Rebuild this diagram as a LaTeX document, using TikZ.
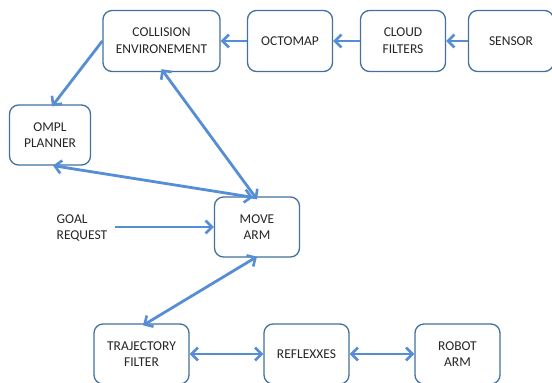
\documentclass[tikz,border=0pt]{standalone}
\usepackage{fontspec}
\setmainfont{Carlito}
\usetikzlibrary{arrows.meta}
\definecolor{boxline}{HTML}{41719C}
\definecolor{arrowc}{HTML}{558ED5}
\definecolor{txt}{HTML}{262626}
\begin{document}
\begin{tikzpicture}[x=1pt,y=-1pt,
  box/.style={draw=boxline, line width=1.3pt, rounded corners=9pt, fill=white,
    minimum width=85pt, minimum height=61pt, align=center, inner sep=0pt,
    font=\fontsize{13.5}{16.7}\selectfont, text=txt},
  lbl/.style={align=left, inner sep=0pt, font=\fontsize{13.5}{16.7}\selectfont, text=txt},
  conn/.style={draw=arrowc, line width=2.8pt},
  tip/.tip={Straight Barb[length=6.5pt,width=13pt,line width=2.6pt]},
  a1/.style={conn,-tip},
  a2/.style={conn,tip-tip}]
\useasboundingbox (0,0) rectangle (552,383);
\clip (0,0) rectangle (552,383);
\node[box, minimum width=117pt] (coll) at (161.5,41) {COLLISION\\ENVIRONEMENT};
\node[box] (octo) at (290,41) {OCTOMAP};
\node[box] (cloud) at (403,41) {CLOUD\\FILTERS};
\node[box] (sensor) at (511,41) {SENSOR};
\node[box, minimum width=81pt, minimum height=60pt] (ompl) at (50,135) {OMPL\\PLANNER};
\node[box, minimum height=60pt] (move) at (257,227) {MOVE\\ARM};
\node[lbl] (goal) at (82,228) {GOAL\\REQUEST};
\coordinate (gstart) at (115,227);
\node[box, minimum width=95pt, minimum height=60pt] (traj) at (141.5,354) {TRAJECTORY\\FILTER};
\node[box, minimum height=60pt] (refl) at (306.5,354) {REFLEXXES};
\node[box, minimum height=60pt] (robot) at (457.5,354) {ROBOT\\ARM};

\draw[a1] (sensor.west) -- (cloud.east);
\draw[a1] (cloud.west) -- (octo.east);
\draw[a1] (octo.west) -- (coll.east);
\draw[a1] (coll.west) -- ([xshift=2pt,yshift=-2pt]ompl.north);
\draw[a2] ([yshift=3pt]coll.south) -- ([yshift=-3pt]move.north);
\draw[a2] ([xshift=3pt,yshift=0pt]ompl.south) -- ([xshift=-4pt,yshift=-1pt]move.north);
\draw[a1] (gstart) -- (move.west);
\draw[a2] ([yshift=1pt]move.south) -- ([xshift=1.5pt,yshift=-2pt]traj.north);
\draw[a2] (traj.east) -- (refl.west);
\draw[a2] (refl.east) -- (robot.west);
\end{tikzpicture}
\end{document}
